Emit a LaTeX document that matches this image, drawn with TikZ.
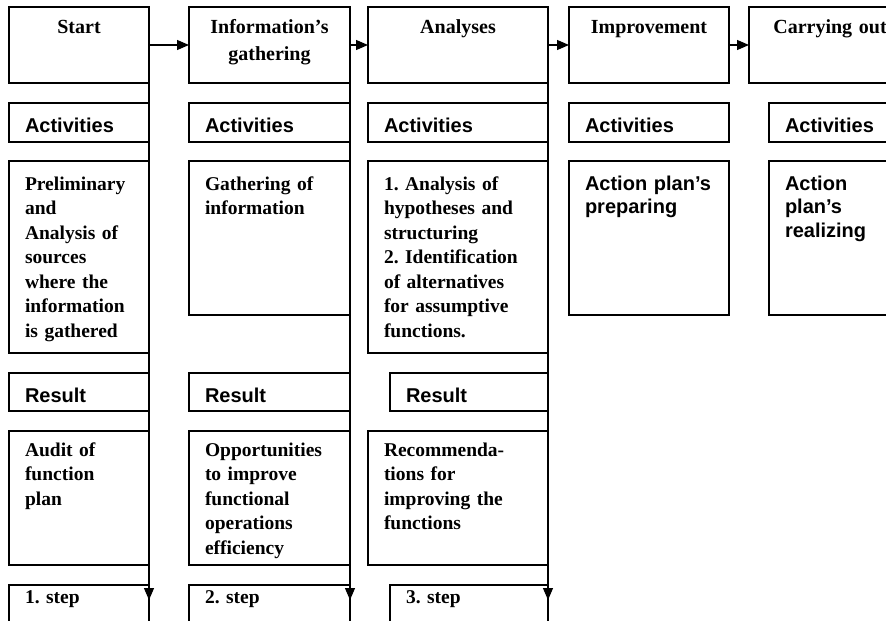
\documentclass[tikz,border=0pt]{standalone}
\usepackage{fontspec}
\setmainfont{Liberation Serif}
\setsansfont{Liberation Sans}
\usetikzlibrary{arrows.meta}
\frenchspacing

\begin{document}
\begin{tikzpicture}[x=1pt,y=-1pt,>={Triangle[length=12pt,width=10pt]},
 box/.style={draw,line width=1.2pt,anchor=north west,inner xsep=16pt,inner ysep=0pt,outer sep=0pt,
  align=left,font=\fontsize{19.5}{24.5}\selectfont\bfseries},
 sans/.style={font=\fontsize{20}{23.5}\selectfont\sffamily\bfseries},
 head/.style={box,align=center,text height=26pt,text depth=50pt,font=\fontsize{20}{27}\selectfont\bfseries},
 acthead/.style={box,sans,text height=29pt,text depth=10pt},
 reshead/.style={box,sans,text height=29pt,text depth=9pt},
 body/.style={box,text height=29pt},
 outcome/.style={box,text height=25pt,text depth=109pt},
 stepbox/.style={box,text height=18pt,text depth=40pt},
 link/.style={->,line width=1.2pt}]
\useasboundingbox (0,0) rectangle (886,621);
\clip (0,0) rectangle (886,621);
% phases
\node[head,text width=108pt] (start) at (9,7) {Start};
\node[head,text width=129pt] (info) at (189,7) {Information's\\gathering};
\node[head,text width=148pt] (anal) at (368,7) {Analyses};
\node[head,text width=128pt] (impr) at (569,7) {Improvement};
\node[head,text width=130pt] (carry) at (749,7) {Carrying out};
% activities
\node[acthead,text width=108pt] (act1) at (9,103) {Activities};
\node[acthead,text width=129pt] (act2) at (189,103) {Activities};
\node[acthead,text width=148pt] (act3) at (368,103) {Activities};
\node[acthead,text width=128pt] (act4) at (569,103) {Activities};
\node[acthead,text width=110pt] (act5) at (769,103) {Activities};
\node[body,text depth=163pt,text width=108pt] (task1) at (9,161) {Preliminary\\and\\Analysis of\\sources\\where the\\information\\is gathered};
\node[body,text depth=125pt,text width=129pt] (task2) at (189,161) {Gathering of\\information};
\node[body,text depth=163pt,text width=148pt] (task3) at (368,161) {1. Analysis of\\hypotheses and\\structuring\\2. Identification\\of alternatives\\for assumptive\\functions.};
\node[body,sans,text depth=125pt,text width=128pt] (task4) at (569,161) {Action plan's\\preparing};
\node[body,sans,text depth=125pt,text width=110pt] (task5) at (769,161) {Action\\plan's\\realizing};
% results
\node[reshead,text width=108pt] (res1) at (9,373) {Result};
\node[reshead,text width=129pt] (res2) at (189,373) {Result};
\node[reshead,text width=126pt] (res3) at (390,373) {Result};
\node[outcome,text width=108pt] (out1) at (9,431) {Audit of\\function\\plan};
\node[outcome,text width=129pt] (out2) at (189,431) {Opportunities\\to improve\\functional\\operations\\efficiency};
\node[outcome,text width=148pt] (out3) at (368,431) {Recommenda-\\tions for\\improving the\\functions};
% steps
\node[stepbox,text width=108pt] (step1) at (9,585) {1. step};
\node[stepbox,text width=129pt] (step2) at (189,585) {2. step};
\node[stepbox,text width=126pt] (step3) at (390,585) {3. step};
% flow
\draw[link] (start) -- (info);
\draw[link] (info) -- (anal);
\draw[link] (anal) -- (impr);
\draw[link] (impr) -- (carry);
\coordinate (tip1) at (149,600);
\coordinate (tip2) at (350,600);
\coordinate (tip3) at (548,600);
\coordinate (foot1) at (149,621);
\coordinate (foot2) at (350,621);
\coordinate (foot3) at (548,621);
\draw[link] (start.south east) -- (tip1);
\draw[link] (info.south east) -- (tip2);
\draw[link] (anal.south east) -- (tip3);
\draw[line width=1.2pt] (tip1) -- (foot1) (tip2) -- (foot2) (tip3) -- (foot3);
\end{tikzpicture}
\end{document}
